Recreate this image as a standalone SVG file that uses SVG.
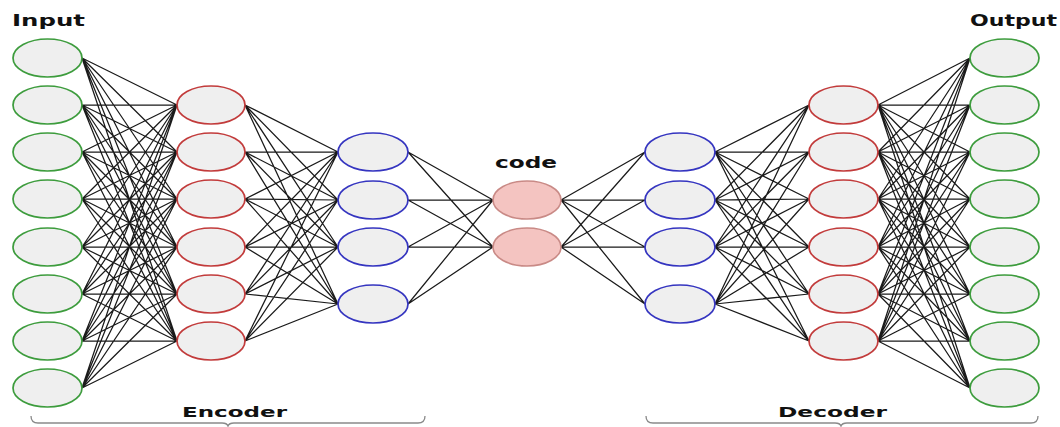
<svg xmlns="http://www.w3.org/2000/svg" width="1060" height="427" viewBox="0 0 1060 427">
<style>
.lbl{font-family:"DejaVu Sans","Liberation Sans",sans-serif;font-weight:bold;fill:#111;}
.n{fill:#efefef;stroke-width:1.7;}
.g{stroke:#3d9c3d;}
.r{stroke:#c23b3b;}
.b{stroke:#3535c0;}
.c{fill:#f4c4c1;stroke:#c98a86;stroke-width:1.6;}
.w{fill:none;stroke:#1a1a1a;stroke-width:1.25;}
.br{fill:none;stroke:#8a8a8a;stroke-width:1.3;}
</style>
<rect width="1060" height="427" fill="#fff"/>
<g id="connectors" class="w">
<path d="M82 58L177 105M82 58L177 152M82 58L177 199M82 58L177 247M82 58L177 294M82 58L177 341
M82 105L177 105M82 105L177 152M82 105L177 199M82 105L177 247M82 105L177 294M82 105L177 341
M82 152L177 105M82 152L177 152M82 152L177 199M82 152L177 247M82 152L177 294M82 152L177 341
M82 199L177 105M82 199L177 152M82 199L177 199M82 199L177 247M82 199L177 294M82 199L177 341
M82 247L177 105M82 247L177 152M82 247L177 199M82 247L177 247M82 247L177 294M82 247L177 341
M82 294L177 105M82 294L177 152M82 294L177 199M82 294L177 247M82 294L177 294M82 294L177 341
M82 341L177 105M82 341L177 152M82 341L177 199M82 341L177 247M82 341L177 294M82 341L177 341
M82 388L177 105M82 388L177 152M82 388L177 199M82 388L177 247M82 388L177 294M82 388L177 341"/>
<path d="M245 105L338 152M245 105L338 200M245 105L338 247M245 105L338 304
M245 152L338 152M245 152L338 200M245 152L338 247M245 152L338 304
M245 199L338 152M245 199L338 200M245 199L338 247M245 199L338 304
M245 247L338 152M245 247L338 200M245 247L338 247M245 247L338 304
M245 294L338 152M245 294L338 200M245 294L338 247M245 294L338 304
M245 341L338 152M245 341L338 200M245 341L338 247M245 341L338 304"/>
<path d="M408 152L493 200M408 152L493 247M408 200L493 200M408 200L493 247M408 247L493 200M408 247L493 247M408 304L493 200M408 304L493 247"/>
<path d="M561 200L645 152M561 200L645 200M561 200L645 247M561 200L645 304M561 247L645 152M561 247L645 200M561 247L645 247M561 247L645 304"/>
<path d="M715 152L809 105M715 152L809 152M715 152L809 199M715 152L809 247M715 152L809 294M715 152L809 341
M715 200L809 105M715 200L809 152M715 200L809 199M715 200L809 247M715 200L809 294M715 200L809 341
M715 247L809 105M715 247L809 152M715 247L809 199M715 247L809 247M715 247L809 294M715 247L809 341
M715 304L809 105M715 304L809 152M715 304L809 199M715 304L809 247M715 304L809 294M715 304L809 341"/>
<path d="M878 105L970 58M878 105L970 105M878 105L970 152M878 105L970 199M878 105L970 247M878 105L970 294M878 105L970 341M878 105L970 388
M878 152L970 58M878 152L970 105M878 152L970 152M878 152L970 199M878 152L970 247M878 152L970 294M878 152L970 341M878 152L970 388
M878 199L970 58M878 199L970 105M878 199L970 152M878 199L970 199M878 199L970 247M878 199L970 294M878 199L970 341M878 199L970 388
M878 247L970 58M878 247L970 105M878 247L970 152M878 247L970 199M878 247L970 247M878 247L970 294M878 247L970 341M878 247L970 388
M878 294L970 58M878 294L970 105M878 294L970 152M878 294L970 199M878 294L970 247M878 294L970 294M878 294L970 341M878 294L970 388
M878 341L970 58M878 341L970 105M878 341L970 152M878 341L970 199M878 341L970 247M878 341L970 294M878 341L970 341M878 341L970 388"/>
</g>
<g id="input-layer">
<g id="in1"><ellipse class="n g" cx="47.5" cy="58" rx="34.5" ry="19"/></g>
<g id="in2"><ellipse class="n g" cx="47.5" cy="105" rx="34.5" ry="19"/></g>
<g id="in3"><ellipse class="n g" cx="47.5" cy="152" rx="34.5" ry="19"/></g>
<g id="in4"><ellipse class="n g" cx="47.5" cy="199" rx="34.5" ry="19"/></g>
<g id="in5"><ellipse class="n g" cx="47.5" cy="247" rx="34.5" ry="19"/></g>
<g id="in6"><ellipse class="n g" cx="47.5" cy="294" rx="34.5" ry="19"/></g>
<g id="in7"><ellipse class="n g" cx="47.5" cy="341" rx="34.5" ry="19"/></g>
<g id="in8"><ellipse class="n g" cx="47.5" cy="388" rx="34.5" ry="19"/></g>
</g>
<g id="enc-hidden1">
<g id="e1a"><ellipse class="n r" cx="211" cy="105" rx="34" ry="19"/></g>
<g id="e1b"><ellipse class="n r" cx="211" cy="152" rx="34" ry="19"/></g>
<g id="e1c"><ellipse class="n r" cx="211" cy="199" rx="34" ry="19"/></g>
<g id="e1d"><ellipse class="n r" cx="211" cy="247" rx="34" ry="19"/></g>
<g id="e1e"><ellipse class="n r" cx="211" cy="294" rx="34" ry="19"/></g>
<g id="e1f"><ellipse class="n r" cx="211" cy="341" rx="34" ry="19"/></g>
</g>
<g id="enc-hidden2">
<g id="e2a"><ellipse class="n b" cx="373" cy="152" rx="35" ry="19"/></g>
<g id="e2b"><ellipse class="n b" cx="373" cy="200" rx="35" ry="19"/></g>
<g id="e2c"><ellipse class="n b" cx="373" cy="247" rx="35" ry="19"/></g>
<g id="e2d"><ellipse class="n b" cx="373" cy="304" rx="35" ry="19"/></g>
</g>
<g id="code-layer">
<g id="c1"><ellipse class="c" cx="527" cy="200" rx="34" ry="19"/></g>
<g id="c2"><ellipse class="c" cx="527" cy="247" rx="34" ry="19"/></g>
</g>
<g id="dec-hidden1">
<g id="d1a"><ellipse class="n b" cx="680" cy="152" rx="35" ry="19"/></g>
<g id="d1b"><ellipse class="n b" cx="680" cy="200" rx="35" ry="19"/></g>
<g id="d1c"><ellipse class="n b" cx="680" cy="247" rx="35" ry="19"/></g>
<g id="d1d"><ellipse class="n b" cx="680" cy="304" rx="35" ry="19"/></g>
</g>
<g id="dec-hidden2">
<g id="d2a"><ellipse class="n r" cx="843.5" cy="105" rx="34.5" ry="19"/></g>
<g id="d2b"><ellipse class="n r" cx="843.5" cy="152" rx="34.5" ry="19"/></g>
<g id="d2c"><ellipse class="n r" cx="843.5" cy="199" rx="34.5" ry="19"/></g>
<g id="d2d"><ellipse class="n r" cx="843.5" cy="247" rx="34.5" ry="19"/></g>
<g id="d2e"><ellipse class="n r" cx="843.5" cy="294" rx="34.5" ry="19"/></g>
<g id="d2f"><ellipse class="n r" cx="843.5" cy="341" rx="34.5" ry="19"/></g>
</g>
<g id="output-layer">
<g id="out1"><ellipse class="n g" cx="1004.5" cy="58" rx="34.5" ry="19"/></g>
<g id="out2"><ellipse class="n g" cx="1004.5" cy="105" rx="34.5" ry="19"/></g>
<g id="out3"><ellipse class="n g" cx="1004.5" cy="152" rx="34.5" ry="19"/></g>
<g id="out4"><ellipse class="n g" cx="1004.5" cy="199" rx="34.5" ry="19"/></g>
<g id="out5"><ellipse class="n g" cx="1004.5" cy="247" rx="34.5" ry="19"/></g>
<g id="out6"><ellipse class="n g" cx="1004.5" cy="294" rx="34.5" ry="19"/></g>
<g id="out7"><ellipse class="n g" cx="1004.5" cy="341" rx="34.5" ry="19"/></g>
<g id="out8"><ellipse class="n g" cx="1004.5" cy="388" rx="34.5" ry="19"/></g>
</g>
<g id="labels">
<text class="lbl" x="12" y="26" font-size="15" textLength="73" lengthAdjust="spacingAndGlyphs">Input</text>
<text class="lbl" x="970" y="26" font-size="15" textLength="87" lengthAdjust="spacingAndGlyphs">Output</text>
<text class="lbl" x="495" y="168" font-size="15" textLength="62" lengthAdjust="spacingAndGlyphs">code</text>
<text class="lbl" x="182" y="417" font-size="14" textLength="105" lengthAdjust="spacingAndGlyphs">Encoder</text>
<text class="lbl" x="778" y="417" font-size="14" textLength="109" lengthAdjust="spacingAndGlyphs">Decoder</text>
</g>
<g id="brackets" class="br">
<path d="M31 416Q31 423 38 423L222 423Q227 423 228 426Q229 423 234 423L418 423Q425 423 425 416"/>
<path d="M646 416Q646 423 653 423L835 423Q840 423 841 426Q842 423 847 423L1031 423Q1038 423 1038 416"/>
</g>
</svg>
